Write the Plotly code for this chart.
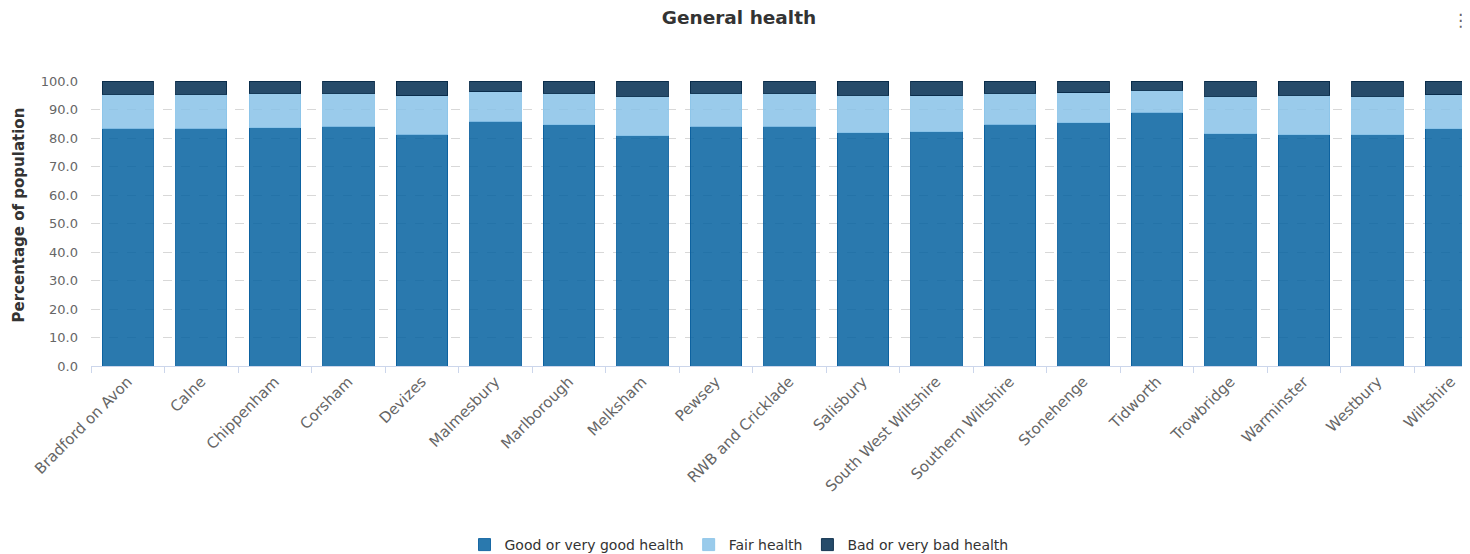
import plotly.graph_objects as go

categories = ["Bradford on Avon", "Calne", "Chippenham", "Corsham", "Devizes",
              "Malmesbury", "Marlborough", "Melksham", "Pewsey", "RWB and Cricklade",
              "Salisbury", "South West Wiltshire", "Southern Wiltshire", "Stonehenge",
              "Tidworth", "Trowbridge", "Warminster", "Westbury", "Wiltshire"]
good = [83.4, 83.4, 83.6, 84.1, 81.4, 85.8, 84.7, 80.8, 84.1, 84.1,
        81.8, 82.2, 84.8, 85.3, 89.0, 81.5, 81.1, 81.1, 83.2]
fair = [11.9, 12.0, 12.1, 11.6, 13.5, 10.5, 11.0, 13.8, 11.6, 11.6,
        13.2, 12.7, 10.9, 10.5, 7.8, 13.1, 13.9, 13.5, 11.9]
bad = [4.7, 4.6, 4.3, 4.3, 5.1, 3.7, 4.3, 5.4, 4.3, 4.3,
       5.0, 5.1, 4.3, 4.2, 3.2, 5.4, 5.0, 5.4, 4.9]

series = [
    ("Good or very good health", good, "rgba(5,98,160,0.85)", "rgba(10,95,158,0.9)"),
    ("Fair health", fair, "rgba(136,194,232,0.85)", "rgba(140,196,233,0.9)"),
    ("Bad or very bad health", bad, "rgba(0,43,80,0.85)", "rgba(8,42,72,0.9)"),
]

# page offset (body margin) compensation
OFF = 8
W, H = 1470 - OFF, 554 - OFF
L, T = 91 - OFF, 81 - OFF
PB = 366 - OFF  # plot bottom in figure px
PW = W - L
PH = PB - T

fig = go.Figure()
for name, vals, fill, edge in series:
    fig.add_trace(go.Bar(
        x=categories, y=vals, name=name, width=0.7,
        marker=dict(color=fill, line=dict(color=edge, width=1)),
    ))

font = "DejaVu Sans, Verdana, sans-serif"
fig.update_layout(
    width=W, height=H,
    barmode="stack",
    plot_bgcolor="white", paper_bgcolor="white",
    margin=dict(l=L, r=0, t=T, b=H - PB, autoexpand=False),
    font=dict(family=font, size=13, color="#666666"),
    title=dict(text="<b>General health</b>", x=(739 - OFF) / W, xanchor="center",
               y=1, yanchor="top", pad=dict(t=3, b=0),
               font=dict(family=font, size=18.5, color="#333333")),
    showlegend=True,
    legend=dict(orientation="h", traceorder="normal",
                x=(739 - OFF - L) / PW, xanchor="center",
                y=(PB - (545 - OFF)) / PH, yanchor="middle",
                font=dict(family=font, size=14, color="#333333"),
                itemwidth=30, tracegroupgap=0),
    xaxis=dict(range=[-0.5, 18.26], tickangle=-45, ticks="outside",
               tickson="boundaries", ticklen=6, tickcolor="#ccd6eb",
               showline=True, linecolor="#ccd6eb", linewidth=1,
               showgrid=False, tickfont=dict(size=15, color="#666666")),
    yaxis=dict(range=[0, 100], dtick=10, tickformat=".1f",
               showgrid=True, gridcolor="#d8d8d8", griddash="dash",
               zeroline=False, ticklabelstandoff=12,
               tickfont=dict(size=13, color="#666666")),
    annotations=[
        dict(text="<b>Percentage of population</b>", textangle=-90,
             xref="paper", yref="paper", x=(18 - OFF - L) / PW,
             y=(PB - (215.5 - OFF)) / PH,
             xanchor="center", yanchor="middle", showarrow=False,
             font=dict(family=font, size=15, color="#333333")),
        dict(text="⋮", xref="paper", yref="paper",
             x=(1460 - OFF - L) / PW, y=1 + T / PH,
             xanchor="center", yanchor="top", showarrow=False,
             font=dict(family=font, size=17, color="#666666")),
    ],
)

fig.write_html("out.html")
